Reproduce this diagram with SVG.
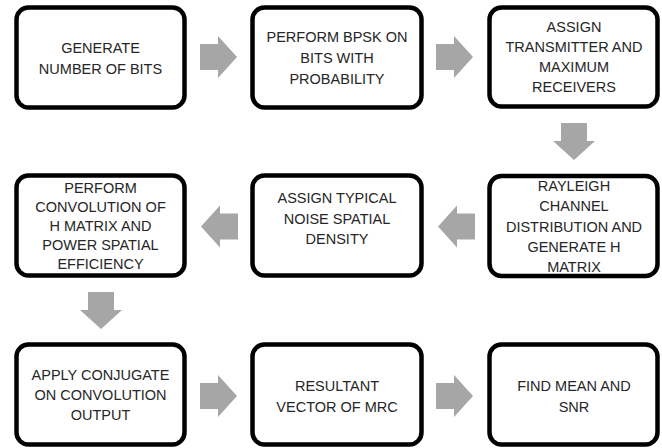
<svg xmlns="http://www.w3.org/2000/svg" width="662" height="448" viewBox="0 0 662 448">
  <style>
    .box { fill: #ffffff; stroke: #000000; stroke-width: 4.5; }
    .lbl { font-family: "Liberation Sans", Arial, sans-serif; font-size: 14.5px; fill: #262626; text-anchor: middle; }
    .arrow { fill: #a6a6a6; }
  </style>
  <defs>
    <!-- block arrow pointing right, origin at the tail centre -->
    <path id="blockArrow" d="M0,-13 H18 V-21 L37,0 L18,21 V13 H0 Z"/>
  </defs>

  <rect width="662" height="448" fill="#ffffff"/>

  <!-- connectors -->
  <g id="connectors" class="arrow">
    <use href="#blockArrow" transform="translate(200,57)"/>
    <use href="#blockArrow" transform="translate(436,57)"/>
    <use href="#blockArrow" transform="translate(574,123) rotate(90)"/>
    <use href="#blockArrow" transform="translate(475,226.5) rotate(180)"/>
    <use href="#blockArrow" transform="translate(238,226.5) rotate(180)"/>
    <use href="#blockArrow" transform="translate(101,292) rotate(90)"/>
    <use href="#blockArrow" transform="translate(200,396)"/>
    <use href="#blockArrow" transform="translate(436,396)"/>
  </g>

  <!-- row 1 -->
  <g id="generate-bits">
    <rect class="box" x="16.5" y="7.5" width="168" height="100" rx="12"/>
    <text class="lbl" x="100.5"><tspan x="100.5" y="53.3">GENERATE</tspan><tspan x="100.5" y="74">NUMBER OF BITS</tspan></text>
  </g>
  <g id="bpsk">
    <rect class="box" x="252.5" y="7.5" width="169" height="100" rx="12"/>
    <text class="lbl"><tspan x="337" y="42">PERFORM BPSK ON</tspan><tspan x="337" y="63">BITS WITH</tspan><tspan x="337" y="84">PROBABILITY</tspan></text>
  </g>
  <g id="assign-tx-rx">
    <rect class="box" x="489.5" y="7.5" width="168" height="99" rx="12"/>
    <text class="lbl"><tspan x="574" y="32">ASSIGN</tspan><tspan x="574" y="52">TRANSMITTER AND</tspan><tspan x="574" y="72">MAXIMUM</tspan><tspan x="574" y="92">RECEIVERS</tspan></text>
  </g>

  <!-- row 2 -->
  <g id="rayleigh">
    <rect class="box" x="489.5" y="176" width="168" height="100" rx="12"/>
    <text class="lbl"><tspan x="574" y="190.5">RAYLEIGH</tspan><tspan x="574" y="211">CHANNEL</tspan><tspan x="574" y="231.5">DISTRIBUTION AND</tspan><tspan x="574" y="252">GENERATE H</tspan><tspan x="574" y="272">MATRIX</tspan></text>
  </g>
  <g id="noise-density">
    <rect class="box" x="252.5" y="175.5" width="169" height="100" rx="12"/>
    <text class="lbl"><tspan x="337" y="203">ASSIGN TYPICAL</tspan><tspan x="337" y="223.5">NOISE SPATIAL</tspan><tspan x="337" y="244">DENSITY</tspan></text>
  </g>
  <g id="convolution">
    <rect class="box" x="16.5" y="175.5" width="168" height="100" rx="12"/>
    <text class="lbl"><tspan x="100.5" y="192.5">PERFORM</tspan><tspan x="100.5" y="211.7">CONVOLUTION OF</tspan><tspan x="100.5" y="231">H MATRIX  AND</tspan><tspan x="100.5" y="250.2">POWER SPATIAL</tspan><tspan x="100.5" y="269.4">EFFICIENCY</tspan></text>
  </g>

  <!-- row 3 -->
  <g id="conjugate">
    <rect class="box" x="16.5" y="344.5" width="168" height="100" rx="12"/>
    <text class="lbl"><tspan x="100.5" y="380">APPLY CONJUGATE</tspan><tspan x="100.5" y="400">ON CONVOLUTION</tspan><tspan x="100.5" y="420">OUTPUT</tspan></text>
  </g>
  <g id="mrc-vector">
    <rect class="box" x="252.5" y="344.5" width="169" height="100" rx="12"/>
    <text class="lbl"><tspan x="337" y="391">RESULTANT</tspan><tspan x="337" y="412">VECTOR OF MRC</tspan></text>
  </g>
  <g id="mean-snr">
    <rect class="box" x="489.5" y="344.5" width="168" height="100" rx="12"/>
    <text class="lbl"><tspan x="574" y="391">FIND MEAN AND</tspan><tspan x="574" y="412">SNR</tspan></text>
  </g>
</svg>
